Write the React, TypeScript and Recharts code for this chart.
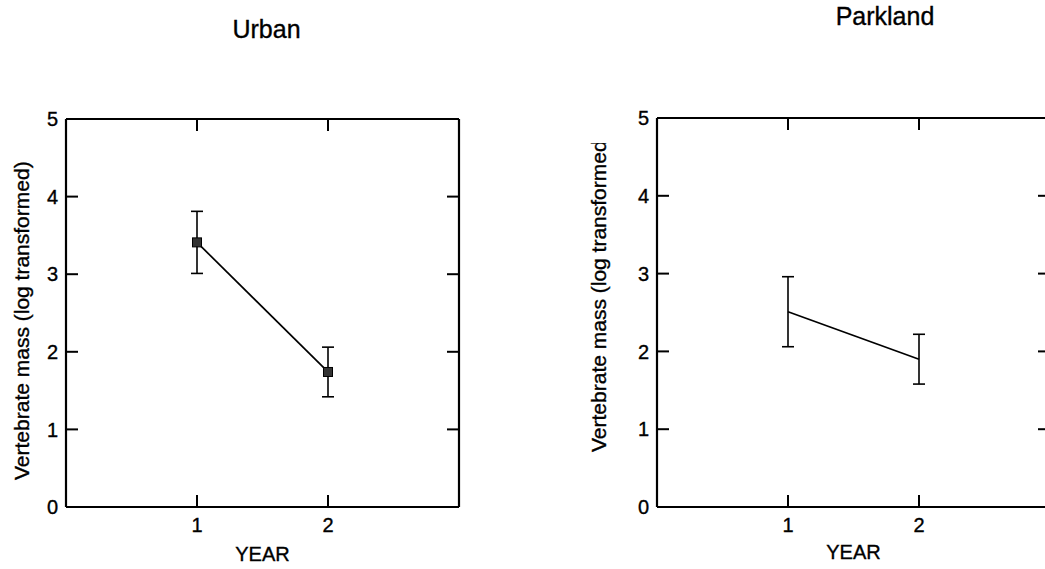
import React from 'react';
import { LineChart, Line, XAxis, YAxis, ErrorBar } from 'recharts';

const FONT = '"Liberation Sans", Arial, Helvetica, sans-serif';

const years = [1, 2];
const urbanMean = [3.41, 1.74];
const urbanErr = [0.4, 0.32];
const parkMean = [2.51, 1.9];
const parkErr = [0.45, 0.32];
const xTicks = [1, 2];
const yTicks = [0, 1, 2, 3, 4, 5];
const xDomain = [0, 3];
const yDomain = [0, 5];

const urbanData = years.map((year, i) => ({ year, mean: urbanMean[i], err: urbanErr[i] }));
const parkData = years.map((year, i) => ({ year, mean: parkMean[i], err: parkErr[i] }));

const TICK_LEN = 12;
const Y_MARGIN = 8;
const X_MARGIN = 11;
const TICK_FS = 20;
const TEXT_STROKE = 0.35;

const LeftTick = (props: any) => {
  const { x, y, payload } = props;
  const ax = x + Y_MARGIN;
  return (
    <g>
      <line x1={ax} x2={ax + TICK_LEN} y1={y} y2={y} stroke="#000" strokeWidth={2} />
      <text x={x} y={y} dy="0.36em" textAnchor="end" fontSize={TICK_FS} fill="#000" stroke="#000" strokeWidth={TEXT_STROKE} fontFamily={FONT}>
        {payload.value}
      </text>
    </g>
  );
};

const BottomTick = (props: any) => {
  const { x, y, payload } = props;
  const ay = y - X_MARGIN;
  return (
    <g>
      <line x1={x} x2={x} y1={ay} y2={ay - TICK_LEN} stroke="#000" strokeWidth={2} />
      <text x={x} y={y} dy="0.71em" textAnchor="middle" fontSize={TICK_FS} fill="#000" stroke="#000" strokeWidth={TEXT_STROKE} fontFamily={FONT}>
        {payload.value}
      </text>
    </g>
  );
};

const TopTick = (props: any) => {
  const { x, y } = props;
  return <line x1={x} x2={x} y1={y} y2={y + TICK_LEN} stroke="#000" strokeWidth={2} />;
};

const RightTick = (props: any) => {
  const { x, y } = props;
  return <line x1={x} x2={x - TICK_LEN} y1={y} y2={y} stroke="#000" strokeWidth={2} />;
};

const SquareDot = (props: any) => {
  const { cx, cy, index } = props;
  return <rect key={`sq-${index}`} x={cx - 4.5} y={cy - 4.5} width={9} height={9} fill="#333" stroke="#000" strokeWidth={1} />;
};

const axisLine = { stroke: '#000', strokeWidth: 2.2 };

function Panel({ data, margin, width, height, markers, yearOffset }: any) {
  return (
    <LineChart width={width} height={height} data={data} margin={margin}>
      <XAxis
        xAxisId="b"
        type="number"
        dataKey="year"
        domain={xDomain}
        ticks={xTicks}
        interval={0}
        height={1}
        tickSize={0}
        tickMargin={X_MARGIN}
        tickLine={false}
        axisLine={axisLine}
        tick={BottomTick}
        allowDataOverflow
        label={{ value: 'YEAR', position: 'bottom', offset: yearOffset, fill: '#000', stroke: '#000', strokeWidth: TEXT_STROKE, fontSize: 20, fontFamily: FONT }}
      />
      <XAxis
        xAxisId="t"
        orientation="top"
        type="number"
        dataKey="year"
        domain={xDomain}
        ticks={xTicks}
        interval={0}
        height={1}
        tickSize={0}
        tickMargin={0}
        tickLine={false}
        axisLine={axisLine}
        tick={TopTick}
        allowDataOverflow
      />
      <YAxis
        yAxisId="l"
        type="number"
        domain={yDomain}
        ticks={yTicks}
        interval={0}
        width={1}
        tickSize={0}
        tickMargin={Y_MARGIN}
        tickLine={false}
        axisLine={axisLine}
        tick={LeftTick}
        allowDataOverflow
      />
      <YAxis
        yAxisId="r"
        orientation="right"
        type="number"
        domain={yDomain}
        ticks={yTicks}
        interval={0}
        width={1}
        tickSize={0}
        tickMargin={0}
        tickLine={false}
        axisLine={axisLine}
        tick={RightTick}
        allowDataOverflow
      />
      <Line
        xAxisId="b"
        yAxisId="l"
        type="linear"
        dataKey="mean"
        stroke="#000"
        strokeWidth={1.7}
        dot={markers ? SquareDot : false}
        activeDot={false}
        isAnimationActive={false}
      >
        <ErrorBar dataKey="err" width={6} stroke="#000" strokeWidth={1.6} direction="y" isAnimationActive={false} />
      </Line>
    </LineChart>
  );
}

export default function App() {
  return (
    <div
      style={{
        position: 'absolute',
        left: 0,
        top: 0,
        width: 1045,
        height: 569,
        overflow: 'hidden',
        background: '#fff',
        fontFamily: FONT,
      }}
    >
      <div style={{ position: 'absolute', left: 0, top: 0 }}>
        <Panel
          data={urbanData}
          width={520}
          height={569}
          margin={{ top: 118, right: 60, bottom: 61, left: 65 }}
          markers
          yearOffset={39}
        />
      </div>
      <div style={{ position: 'absolute', left: 540, top: 0 }}>
        <Panel
          data={parkData}
          width={520}
          height={569}
          margin={{ top: 117, right: 9, bottom: 61, left: 116 }}
          markers={false}
          yearOffset={37}
        />
      </div>
      <svg
        width={1045}
        height={569}
        style={{ position: 'absolute', left: 0, top: 0, pointerEvents: 'none' }}
      >
        <defs>
          <clipPath id="parkLabelClip">
            <rect x={560} y={143} width={100} height={420} />
          </clipPath>
        </defs>
        <g fill="#000" stroke="#000" strokeWidth={TEXT_STROKE} fontFamily={FONT}>
          <text x={266.5} y={38} textAnchor="middle" fontSize={25}>
            Urban
          </text>
          <text x={885} y={25} textAnchor="middle" fontSize={25}>
            Parkland
          </text>
          <text x={28.5} y={480} transform="rotate(-90 28.5 480)" textAnchor="start" fontSize={21}>
            Vertebrate mass (log transformed)
          </text>
          <g clipPath="url(#parkLabelClip)">
            <text x={606} y={452} transform="rotate(-90 606 452)" textAnchor="start" fontSize={21}>
              Vertebrate mass (log transformed)
            </text>
          </g>
        </g>
      </svg>
    </div>
  );
}
